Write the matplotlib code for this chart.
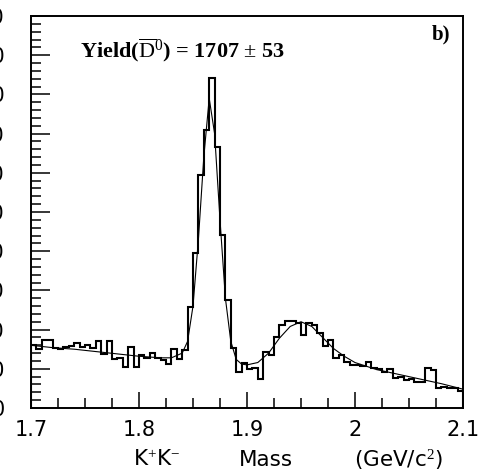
import numpy as np
import matplotlib
matplotlib.use("Agg")
import matplotlib.pyplot as plt
from matplotlib.ticker import MultipleLocator

# K+K- invariant mass spectrum, 5 MeV/c^2 bins from 1.70 to 2.10 GeV/c^2
mass_lo, mass_hi, n_bins = 1.70, 2.10, 80
counts = [
    80, 75, 87, 87, 77, 75, 78, 79, 83, 78,
    80, 77, 86, 69, 86, 62, 64, 52, 78, 52,
    68, 64, 70, 64, 61, 56, 75, 62, 74, 129,
    198, 297, 355, 421, 333, 221, 138, 76, 46, 57,
    50, 51, 37, 71, 68, 90, 106, 111, 111, 108,
    93, 108, 106, 96, 79, 87, 64, 68, 59, 55,
    55, 53, 59, 51, 50, 46, 50, 38, 39, 36,
    37, 33, 33, 51, 48, 26, 27, 26, 25, 22,
]

# fitted signal + reflection + background curve
fit_mass = [1.70, 1.72, 1.74, 1.76, 1.78, 1.80, 1.82, 1.83, 1.84, 1.845,
            1.85, 1.855, 1.86, 1.865, 1.87, 1.875, 1.88, 1.885, 1.89, 1.895,
            1.90, 1.91, 1.92, 1.93, 1.94, 1.95, 1.96, 1.97, 1.98, 1.99,
            2.00, 2.02, 2.04, 2.06, 2.08, 2.10]
fit_counts = [80, 77, 75, 72, 69, 66, 64, 64, 70, 85,
              130, 215, 320, 395, 350, 240, 140, 85, 62, 56,
              55, 58, 70, 89, 104, 110, 104, 90, 76, 66,
              58, 49, 43, 37, 31, 24]

x_ticks = [1.7, 1.8, 1.9, 2.0, 2.1]
x_tick_labels = ["1.7", "1.8", "1.9", "2", "2.1"]
y_ticks = list(range(0, 501, 50))
y_tick_labels = [str(v) for v in y_ticks]

plt.rcParams["mathtext.fontset"] = "custom"
plt.rcParams["mathtext.rm"] = "Liberation Serif"
plt.rcParams["mathtext.it"] = "Liberation Serif:italic"
plt.rcParams["mathtext.bf"] = "Liberation Serif:bold"

fig = plt.figure(figsize=(4.79, 4.76), dpi=100)
ax = fig.add_axes([31 / 479, 68 / 476, 432 / 479, 392 / 476])

edges = np.linspace(mass_lo, mass_hi, n_bins + 1)
ax.stairs(counts, edges, color="black", linewidth=1.5)
ax.plot(fit_mass, fit_counts, color="black", linewidth=0.8)

ax.set_xlim(mass_lo, mass_hi)
ax.set_ylim(0, 500)

for sp in ax.spines.values():
    sp.set_linewidth(1.4)

ax.set_xticks(x_ticks)
ax.set_xticklabels(x_tick_labels, family="DejaVu Sans", fontsize=15)
ax.set_yticks(y_ticks)
ax.set_yticklabels(y_tick_labels, family="DejaVu Sans", fontsize=15)
ax.xaxis.set_minor_locator(MultipleLocator(0.025))
ax.yaxis.set_minor_locator(MultipleLocator(10))

ax.tick_params(axis="x", which="major", direction="in", length=11.5, width=1.1,
               pad=9, top=False)
ax.tick_params(axis="x", which="minor", direction="in", length=7, width=1.1,
               top=False)
ax.tick_params(axis="y", which="major", direction="in", length=14, width=1.1,
               pad=19, right=False)
ax.tick_params(axis="y", which="minor", direction="in", length=7.5, width=1.1,
               right=False)

ax.text(0.113, 0.895, r"Yield($\overline{\mathrm{D}}^{0}$) = 1707 $\pm$ 53",
        transform=ax.transAxes, family="Liberation Serif", fontsize=16,
        fontweight="bold", va="baseline", ha="left")
ax.text(0.97, 0.939, "b)", transform=ax.transAxes, family="Liberation Serif",
        fontsize=15, fontweight="bold", va="baseline", ha="right")

# axis title, spread out in three pieces
ty = (476 - 460) / 476
fig.text(157 / 479, ty, r"K$^{+}$K$^{-}$", family="DejaVu Sans", fontsize=15.5,
         ha="center", va="center")
fig.text(266 / 479, ty, "Mass", family="DejaVu Sans", fontsize=15.5,
         ha="center", va="center")
fig.text(398 / 479, ty, r"(GeV/c$^{2}$)", family="DejaVu Sans", fontsize=15.5,
         ha="center", va="center")

fig.savefig("out.png", dpi=100)
